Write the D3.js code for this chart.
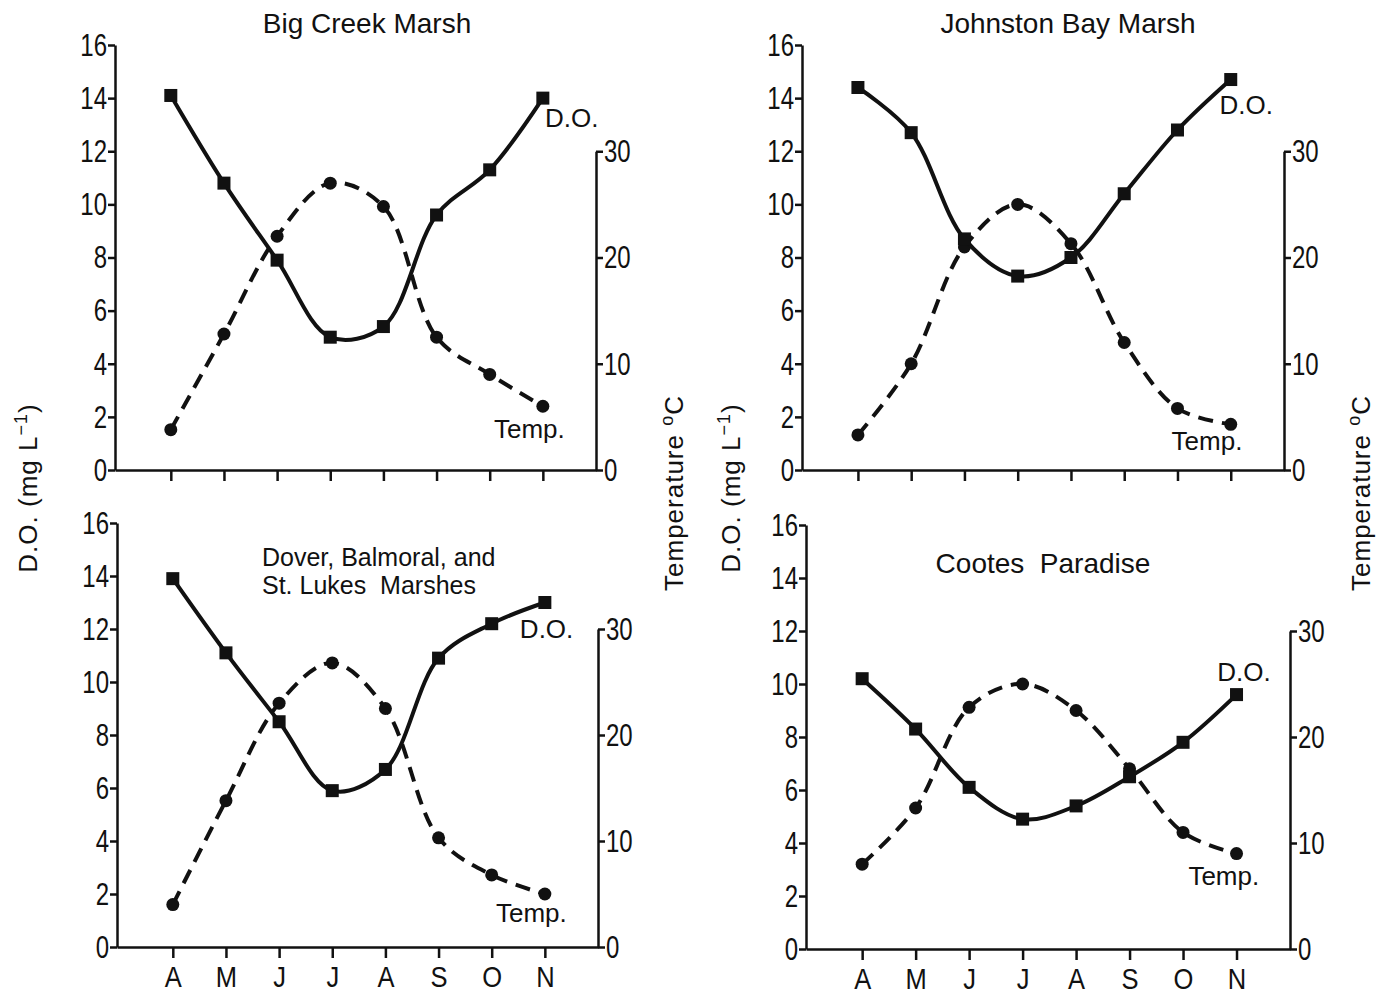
<!DOCTYPE html>
<html lang="en">
  <head>
    <meta charset="utf-8">
    <title>D.O. and temperature in four marshes</title>
    <script src="https://d3js.org/d3.v7.min.js"></script>
    <style>
      body { margin: 0; background: #fff; }
      text { font-family: "Liberation Sans", Arial, sans-serif; fill: #111; }
    </style>
  </head>
  <body>
    <div id="chart"></div>
    <script>
      // months on the x axis (April .. November)
      var months = ["A", "M", "J", "J", "A", "S", "O", "N"];
      var doTicks = [0, 2, 4, 6, 8, 10, 12, 14, 16];
      var tempTicks = [0, 10, 20, 30];

      // dissolved oxygen (mg/L) and water temperature (deg C)
      var doBigCreek = [14.1, 10.8, 7.9, 5.0, 5.4, 9.6, 11.3, 14.0];
      var tempBigCreek = [3.8, 12.8, 22.0, 27.0, 24.8, 12.5, 9.0, 6.0];

      var doJohnston = [14.4, 12.7, 8.7, 7.3, 8.0, 10.4, 12.8, 14.7];
      var tempJohnston = [3.3, 10.0, 21.0, 25.0, 21.3, 12.0, 5.8, 4.3];

      var doDover = [13.9, 11.1, 8.5, 5.9, 6.7, 10.9, 12.2, 13.0];
      var tempDover = [4.0, 13.8, 23.0, 26.8, 22.5, 10.3, 6.8, 5.0];

      var doCootes = [10.2, 8.3, 6.1, 4.9, 5.4, 6.5, 7.8, 9.6];
      var tempCootes = [8.0, 13.3, 22.8, 25.0, 22.5, 17.0, 11.0, 9.0];

      var svg = d3.select("#chart")
        .append("svg")
        .attr("width", 1380)
        .attr("height", 995);

      svg.append("rect").attr("width", 1380).attr("height", 995).attr("fill", "#fff");

      // squeeze a text horizontally, the original type is a condensed face
      var condense = function(sel, k) {
        sel.each(function() {
          var w = this.getComputedTextLength();
          if (w > 0) {
            d3.select(this).attr("textLength", w * k).attr("lengthAdjust", "spacingAndGlyphs");
          }
        });
      };

      // panel frames; label spots are given in (month index, D.O. value) units
      var panels = [
        { title: ["Big Creek Marsh"], titleX: 367, titleY: 33, titleAnchor: "middle", titleSize: 28,
          left: 115, right: 596, top: 45, bottom: 470, monthLabels: false,
          doVals: doBigCreek, tempVals: tempBigCreek, doLab: [7.04, 12.9], tempLab: [6.08, 1.2] },
        { title: ["Johnston Bay Marsh"], titleX: 1068, titleY: 33, titleAnchor: "middle", titleSize: 28,
          left: 802, right: 1284, top: 45, bottom: 470, monthLabels: false,
          doVals: doJohnston, tempVals: tempJohnston, doLab: [6.79, 13.4], tempLab: [5.89, 0.75] },
        { title: ["Dover, Balmoral, and", "St. Lukes  Marshes"], titleX: 262, titleY: 566, titleAnchor: "start", titleSize: 25,
          left: 117, right: 598, top: 523, bottom: 947, monthLabels: true,
          doVals: doDover, tempVals: tempDover, doLab: [6.53, 11.66], tempLab: [6.08, 0.94] },
        { title: ["Cootes  Paradise"], titleX: 1043, titleY: 573, titleAnchor: "middle", titleSize: 28,
          left: 806, right: 1290, top: 525, bottom: 949, monthLabels: true,
          doVals: doCootes, tempVals: tempCootes, doLab: [6.64, 10.1], tempLab: [6.1, 2.42] }
      ];

      var drawPanel = function(p) {
        var g = svg.append("g");

        var x = d3.scaleLinear().domain([-1.05, 8]).range([p.left, p.right]);
        var yDO = d3.scaleLinear().domain([0, 16]).range([p.bottom, p.top]);
        var yT = d3.scaleLinear().domain([0, 30]).range([p.bottom, yDO(12)]);

        // left axis
        var leftAxis = d3.axisLeft(yDO).tickValues(doTicks).tickSize(7).tickSizeOuter(0).tickPadding(1);
        var la = g.append("g").attr("transform", "translate(" + p.left + ",0)").call(leftAxis);

        // right axis
        var rightAxis = d3.axisRight(yT).tickValues(tempTicks).tickSize(7).tickSizeOuter(0).tickPadding(1);
        var ra = g.append("g").attr("transform", "translate(" + p.right + ",0)").call(rightAxis);

        // bottom axis with month ticks
        var bottomAxis = d3.axisBottom(x).tickValues(d3.range(months.length))
          .tickFormat(function(i) { return p.monthLabels ? months[i] : ""; })
          .tickSize(11).tickSizeOuter(0).tickPadding(8);
        var ba = g.append("g").attr("transform", "translate(0," + p.bottom + ")").call(bottomAxis);

        [la, ra, ba].forEach(function(a) {
          a.selectAll("path, line").attr("stroke", "#111").attr("stroke-width", 2.5);
          a.selectAll("text").style("font-size", "32px").style("font-family", "Liberation Sans, Arial, sans-serif").attr("fill", "#111");
        });
        ba.selectAll("text").style("font-size", "29px");
        condense(la.selectAll("text"), 0.75);
        condense(ra.selectAll("text"), 0.75);
        condense(ba.selectAll("text"), 0.88);

        // temperature: dashed line with circles
        var tLine = d3.line()
          .x(function(d, i) { return x(i); })
          .y(function(d) { return yT(d); })
          .curve(d3.curveCatmullRom.alpha(0.5));
        g.append("path")
          .datum(p.tempVals)
          .attr("d", tLine)
          .attr("fill", "none")
          .attr("stroke", "#111")
          .attr("stroke-width", 4)
          .attr("stroke-dasharray", "15,9");
        g.selectAll(".tdot")
          .data(p.tempVals)
          .enter()
          .append("circle")
            .attr("cx", function(d, i) { return x(i); })
            .attr("cy", function(d) { return yT(d); })
            .attr("r", 6.5)
            .attr("fill", "#111");

        // dissolved oxygen: solid line with squares
        var dLine = d3.line()
          .x(function(d, i) { return x(i); })
          .y(function(d) { return yDO(d); })
          .curve(d3.curveCatmullRom.alpha(0.5));
        g.append("path")
          .datum(p.doVals)
          .attr("d", dLine)
          .attr("fill", "none")
          .attr("stroke", "#111")
          .attr("stroke-width", 4);
        g.selectAll(".ddot")
          .data(p.doVals)
          .enter()
          .append("rect")
            .attr("x", function(d, i) { return x(i) - 6.5; })
            .attr("y", function(d) { return yDO(d) - 6.5; })
            .attr("width", 13)
            .attr("height", 13)
            .attr("fill", "#111");

        // series labels
        g.append("text")
          .attr("x", x(p.doLab[0]))
          .attr("y", yDO(p.doLab[1]))
          .style("font-size", "26px")
          .text("D.O.");
        g.append("text")
          .attr("x", x(p.tempLab[0]))
          .attr("y", yDO(p.tempLab[1]))
          .style("font-size", "26px")
          .text("Temp.");

        // title
        var t = g.append("text")
          .attr("x", p.titleX)
          .attr("y", p.titleY)
          .attr("text-anchor", p.titleAnchor)
          .style("font-size", p.titleSize + "px");
        p.title.forEach(function(line, i) {
          t.append("tspan")
            .attr("x", p.titleX)
            .attr("dy", i === 0 ? 0 : 28)
            .style("white-space", "pre")
            .text(line);
        });
      };

      panels.forEach(drawPanel);

      // shared axis titles, one per column
      var axisTitle = function(xPos, yPos, parts) {
        var t = svg.append("text")
          .attr("transform", "translate(" + xPos + "," + yPos + ")rotate(-90)")
          .attr("text-anchor", "middle")
          .style("font-size", "26px")
          .style("letter-spacing", "1px");
        parts.forEach(function(part) {
          var s = t.append("tspan").text(part.s);
          if (part.sup) s.attr("baseline-shift", "super").style("font-size", "18px");
        });
      };
      var doTitle = [{ s: "D.O. (mg L" }, { s: "\u22121", sup: true }, { s: ")" }];
      var tTitle = [{ s: "Temperature " }, { s: "o", sup: true }, { s: "C" }];
      axisTitle(37, 488, doTitle);
      axisTitle(683, 493, tTitle);
      axisTitle(740, 488, doTitle);
      axisTitle(1370, 493, tTitle);
    </script>
  </body>
</html>
